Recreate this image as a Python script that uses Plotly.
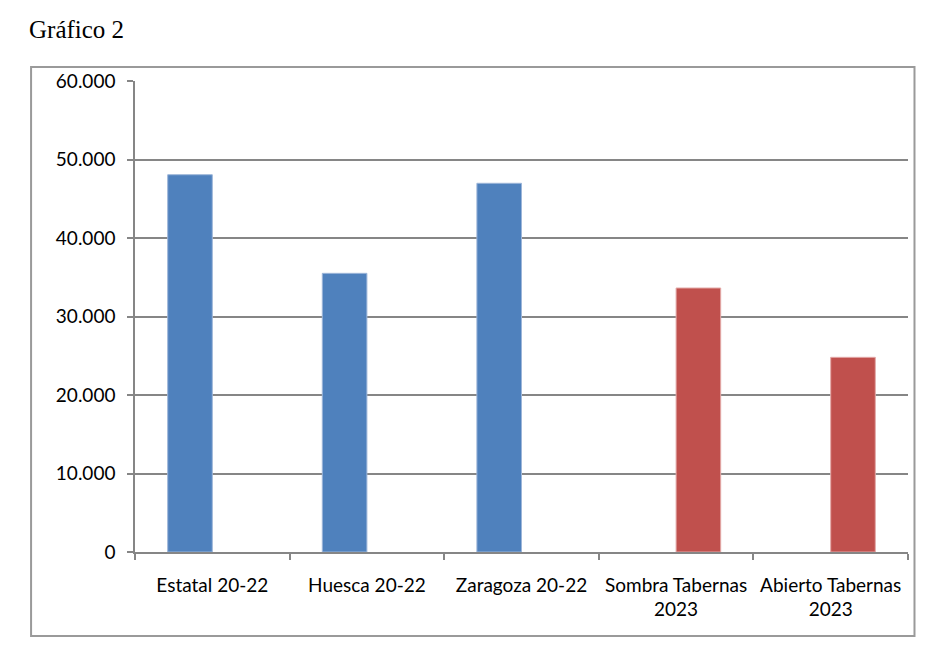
import plotly.graph_objects as go

categories = ["Estatal 20-22", "Huesca 20-22", "Zaragoza 20-22", "Sombra Tabernas<br>2023", "Abierto Tabernas<br>2023"]
serie_20_22 = [48060, 35500, 46970, None, None]
serie_2023 = [None, None, None, 33630, 24800]
y_ticks = [0, 10000, 20000, 30000, 40000, 50000, 60000]

# page body has an 8px margin; work in figure coordinates
OFF = 8
W, H = 944 - OFF, 666 - OFF
L, R, T, B = 135 - OFF, 35.5, 81 - OFF, 114
pw, ph = W - L - R, H - T - B

def px_x(x):
    return (x - OFF - L) / pw

def px_y(y):
    return (H - B - (y - OFF)) / ph

fig = go.Figure()
fig.add_trace(go.Bar(x=categories, y=serie_20_22, marker=dict(color="#4F81BD", line=dict(color="#9DB6D9", width=1)), showlegend=False))
fig.add_trace(go.Bar(x=categories, y=serie_2023, marker=dict(color="#C0504D", line=dict(color="#E3A9A8", width=1)), showlegend=False))

fig.update_layout(
    width=W, height=H,
    margin=dict(l=L, r=R, t=T, b=B, pad=0),
    paper_bgcolor="white", plot_bgcolor="white",
    barmode="group", bargap=0.423, bargroupgap=0,
    separators=",.",
    font=dict(family="Lato, Open Sans, sans-serif", size=19, color="black"),
    xaxis=dict(type="category", showgrid=False, showline=True, linecolor="#868686", linewidth=1.5,
               ticks="outside", tickson="boundaries", ticklen=6, tickcolor="#868686", tickwidth=1.5,
               ticklabelstandoff=15, tickfont=dict(size=19), fixedrange=True),
    yaxis=dict(range=[0, 60000], tickvals=y_ticks, tickformat=",d", showgrid=True, gridcolor="#868686", gridwidth=1.5,
               showline=True, linecolor="#868686", linewidth=1.5, ticks="outside", ticklen=6,
               tickcolor="#868686", tickwidth=1.5, ticklabelstandoff=8, tickfont=dict(size=19),
               zeroline=False, fixedrange=True),
    shapes=[dict(type="rect", xref="paper", yref="paper",
                 x0=px_x(31), x1=px_x(915), y0=px_y(636), y1=px_y(67),
                 line=dict(color="#9A9A9A", width=2), fillcolor="rgba(0,0,0,0)", layer="below")],
    annotations=[dict(text="Gráfico 2", xref="paper", yref="paper", x=px_x(27), y=px_y(29),
                      xanchor="left", yanchor="middle", showarrow=False,
                      font=dict(family="Liberation Serif, DejaVu Serif, serif", size=25, color="black"))],
)

fig.write_html("out.html")
